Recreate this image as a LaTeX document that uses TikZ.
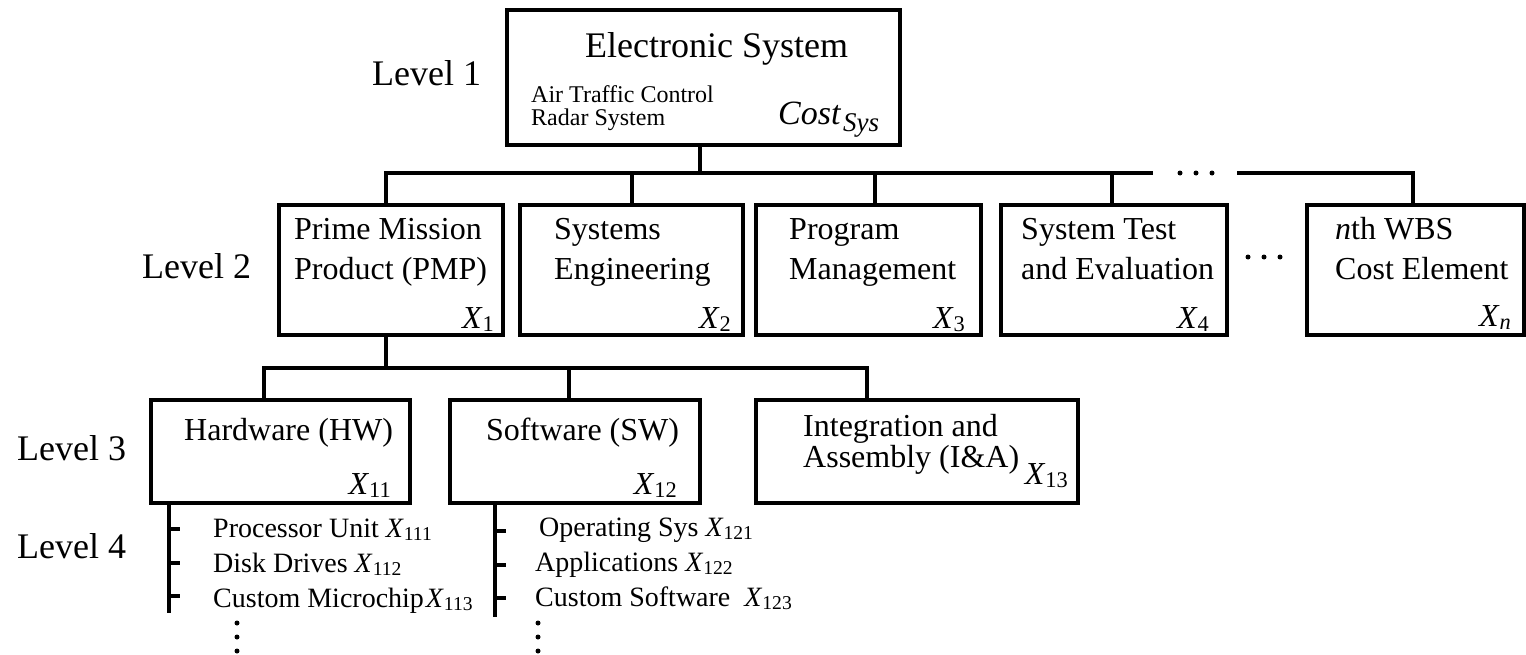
\documentclass[tikz,border=0pt]{standalone}
\usepackage{fontspec}
\setmainfont{Liberation Serif}
\usepackage{graphicx}
% italic symbol with an upright, lowered, smaller index
\newcommand\wbsX[2]{\textit{#1}\raisebox{-0.12em}{\scalebox{0.7}{#2}}}
\newcommand\wbsXi[2]{\textit{#1}\raisebox{-0.12em}{\scalebox{0.7}{\textit{#2}}}}
\begin{document}
\begin{tikzpicture}[x=1pt,y=-1pt,
  wbs/.style={draw, rectangle, line width=4pt, inner sep=0pt, outer sep=0pt},
  lvl/.style={anchor=base west, inner sep=0pt, font=\fontsize{36}{36}\selectfont},
  txt/.style={anchor=base west, inner sep=0pt, font=\fontsize{32}{32}\selectfont},
  note/.style={anchor=base west, inner sep=0pt, font=\fontsize{24}{24}\selectfont},
  item/.style={anchor=base west, inner sep=0pt, font=\fontsize{28}{28}\selectfont},
  cost/.style={anchor=base east, inner sep=0pt, font=\fontsize{32}{32}\selectfont},
  link/.style={line width=4pt},
  tick/.style={line width=3.5pt},
  dotmark/.style={circle, fill, draw=none, inner sep=0pt, minimum size=5pt}]
\useasboundingbox (0,0) rectangle (1526,654);

% boxes
\node[wbs, minimum width=393pt, minimum height=135pt] (sys) at (703.5,77.5) {};
\node[wbs, minimum width=224pt, minimum height=130pt] (pmp) at (391,270) {};
\node[wbs, minimum width=223pt, minimum height=130pt] (se)  at (631.5,270) {};
\node[wbs, minimum width=225pt, minimum height=130pt] (pm)  at (868.5,270) {};
\node[wbs, minimum width=226pt, minimum height=130pt] (ste) at (1114,270) {};
\node[wbs, minimum width=217pt, minimum height=130pt] (nth) at (1415.5,270) {};
\node[wbs, minimum width=259pt, minimum height=103pt] (hw)  at (280.5,451.5) {};
\node[wbs, minimum width=250pt, minimum height=103pt] (sw)  at (575,451.5) {};
\node[wbs, minimum width=322pt, minimum height=103pt] (ia)  at (917,451.5) {};

% level labels
\node[lvl] (l1) at (372,85)  {Level 1};
\node[lvl] (l2) at (142,278) {Level 2};
\node[lvl] (l3) at (17,460)  {Level 3};
\node[lvl] (l4) at (17,558)  {Level 4};

% level 1 contents
\node[lvl] (sysname) at (585,57) {Electronic System};
\node[note] (atc1) at (531,102) {Air Traffic Control};
\node[note] (atc2) at (531,125) {Radar System};
\node[anchor=base west, inner sep=0pt, font=\fontsize{34}{34}\selectfont] (costsys) at (778,124)
  {\textit{Cost}\kern2pt\raisebox{-7pt}{\fontsize{27}{27}\selectfont\itshape Sys}};

% level 2 contents
\node[txt] (pmp1) at (294,239) {Prime Mission};
\node[txt] (pmp2) at (294,279) {Product (PMP)};
\node[cost] (x1) at (494,328) {\wbsX{X}{1}};
\node[txt] (se1) at (554,239) {Systems};
\node[txt] (se2) at (554,279) {Engineering};
\node[cost] (x2) at (731,328) {\wbsX{X}{2}};
\node[txt] (pm1) at (789,239) {Program};
\node[txt] (pm2) at (789,279) {Management};
\node[cost] (x3) at (965,328) {\wbsX{X}{3}};
\node[txt] (ste1) at (1021,239) {System Test};
\node[txt] (ste2) at (1021,279) {and Evaluation};
\node[cost] (x4) at (1209,328) {\wbsX{X}{4}};
\node[txt] (nth1) at (1335,239) {\textit{n}th WBS};
\node[txt] (nth2) at (1335,279) {Cost Element};
\node[cost] (xn) at (1511,326) {\wbsXi{X}{n}};

% level 3 contents
\node[txt] (hw1) at (184,440) {Hardware (HW)};
\node[cost] (x11) at (391,494) {\wbsX{X}{11}};
\node[txt] (sw1) at (486,440) {Software (SW)};
\node[cost] (x12) at (677,494) {\wbsX{X}{12}};
\node[txt] (ia1) at (803,436) {Integration and};
\node[txt] (ia2) at (803,467) {Assembly (I\&A)};
\node[cost] (x13) at (1068,484) {\wbsX{X}{13}};

% level 4 items
\node[item] (h1) at (213,537) {Processor Unit \wbsX{X}{111}};
\node[item] (h2) at (213,572) {Disk Drives \wbsX{X}{112}};
\node[item] (h3) at (213,607) {Custom Microchip\kern2pt\wbsX{X}{113}};
\node[item] (s1) at (539,536) {Operating Sys \wbsX{X}{121}};
\node[item] (s2) at (535,571) {Applications \wbsX{X}{122}};
\node[item] (s3) at (535,606) {Custom Software\ \ \wbsX{X}{123}};

% level 1 to level 2
\coordinate (busA) at (0,173);
\coordinate (gapL) at (1153,173);
\coordinate (gapR) at (1237,173);
\draw[link] ([xshift=-3.5pt]sys.south) -- ([xshift=-3.5pt]sys.south |- busA);
\draw[link] ([xshift=-5pt]pmp.north) -- ([xshift=-5pt]pmp.north |- busA) -- (gapL);
\draw[link] (gapR) -| ([xshift=-2.5pt]nth.north);
\draw[link] (se.north) -- (se.north |- busA);
\draw[link] ([xshift=6.5pt]pm.north) -- ([xshift=6.5pt]pm.north |- busA);
\draw[link] ([xshift=-2pt]ste.north) -- ([xshift=-2pt]ste.north |- busA);

% elided branches of level 2
\node[dotmark] (da1) at (1180,173) {};
\node[dotmark] (da2) at (1196,173) {};
\node[dotmark] (da3) at (1212,173) {};
\node[dotmark] (db1) at (1248,257) {};
\node[dotmark] (db2) at (1264,257) {};
\node[dotmark] (db3) at (1280,257) {};

% level 2 to level 3
\coordinate (busB) at (0,368);
\coordinate (iaTop) at (867,400);
\draw[link] ([xshift=-5pt]pmp.south) -- ([xshift=-5pt]pmp.south |- busB);
\draw[link] ([xshift=-16.5pt]hw.north) -- ([xshift=-16.5pt]hw.north |- busB)
  -| (iaTop);
\draw[link] ([xshift=-6pt]sw.north) -- ([xshift=-6pt]sw.north |- busB);

% level 3 to level 4 combs
\coordinate (hwc) at ([xshift=18pt]hw.south west);
\coordinate (swc) at ([xshift=45pt]sw.south west);
\draw[link] (hwc) -- ++(0,110);
\draw[link] (swc) -- ++(0,114);
\foreach \dy in {26,60,93} {
  \draw[tick] (hwc) ++(0,\dy) -- ++(11,0);
  \draw[tick] (swc) ++(0,\dy+2) -- ++(11,0);
}

% elided level 4 items
\node[dotmark] (hv1) at (237,623) {};
\node[dotmark] (hv2) at (237,637) {};
\node[dotmark] (hv3) at (237,651) {};
\node[dotmark] (sv1) at (538,623) {};
\node[dotmark] (sv2) at (538,637) {};
\node[dotmark] (sv3) at (538,651) {};
\end{tikzpicture}
\end{document}
